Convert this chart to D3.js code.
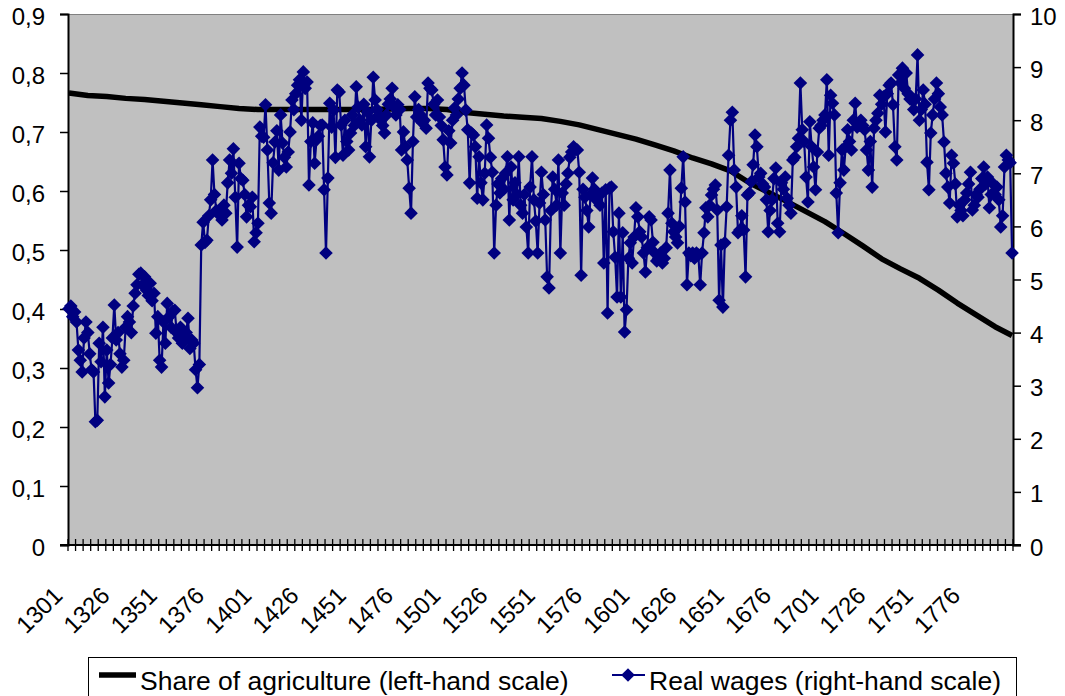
<!DOCTYPE html>
<html>
<head>
<meta charset="utf-8">
<script src="https://cdn.jsdelivr.net/npm/d3@7"></script>
<style>
  body { margin: 0; background: #fff; }
  svg { display: block; }
  text { font-family: "Liberation Sans", Arial, sans-serif; fill: #000; }
</style>
</head>
<body>
<svg id="chart" width="1065" height="696"></svg>
<script>
// Categories: one per year
const firstYear = 1301;
const lastYear = 1800;
const years = d3.range(firstYear, lastYear + 1);

// Category labels shown under the axis
const xTickLabels = ["1301", "1326", "1351", "1376", "1401", "1426", "1451", "1476",
  "1501", "1526", "1551", "1576", "1601", "1626", "1651", "1676", "1701", "1726", "1751", "1776"];

// Axis ticks
const leftTicks = [0, 0.1, 0.2, 0.3, 0.4, 0.5, 0.6, 0.7, 0.8, 0.9];
const rightTicks = [0, 1, 2, 3, 4, 5, 6, 7, 8, 9, 10];

// Share of agriculture (left-hand scale)
const agriYears = [1301, 1311, 1321, 1331, 1341, 1351, 1361, 1371, 1381, 1391,
  1401, 1411, 1421, 1431, 1441, 1451, 1461, 1471, 1481, 1491,
  1501, 1511, 1521, 1531, 1541, 1551, 1561, 1571, 1581, 1591,
  1601, 1611, 1621, 1631, 1641, 1651, 1661, 1671, 1681, 1691,
  1701, 1711, 1721, 1731, 1741, 1751, 1761, 1771, 1781, 1791, 1800];
const agriShare = [0.766, 0.762, 0.760, 0.757, 0.755, 0.752, 0.749, 0.746, 0.743, 0.740,
  0.738, 0.738, 0.738, 0.738, 0.738, 0.738, 0.738, 0.739, 0.740, 0.740,
  0.738, 0.733, 0.730, 0.727, 0.725, 0.723, 0.718, 0.712, 0.704, 0.696,
  0.688, 0.678, 0.668, 0.656, 0.646, 0.634, 0.614, 0.598, 0.582, 0.565,
  0.548, 0.528, 0.507, 0.485, 0.468, 0.452, 0.432, 0.410, 0.390, 0.370, 0.355];

// Real wages (right-hand scale), 1301-1800
const realWages = [
  4.45, 4.5, 4.3, 4.39, 4.2, 3.67, 3.48, 3.26, 3.9, 4.2,
  4.0, 3.6, 3.3, 3.26, 2.32, 2.35, 3.8, 3.45, 4.1, 2.79,
  3.67, 3.05, 3.4, 3.9, 4.52, 3.86, 4.0, 3.6, 3.35, 3.48,
  4.1, 4.3, 4.2, 4.0, 4.5, 4.74, 4.9, 5.1, 5.12, 4.9,
  5.05, 4.8, 4.7, 4.93, 4.6, 4.74, 3.99, 4.3, 3.48, 3.35,
  4.2, 3.8, 4.55, 4.3, 4.1, 4.4, 4.42, 4.0, 3.9, 4.1,
  3.8, 3.9, 4.0, 4.27, 3.7, 3.86, 3.8, 3.3, 2.96, 3.4,
  5.65, 6.08, 5.7, 5.74, 6.2, 6.5, 7.25, 6.6, 6.3, 6.27,
  6.2, 6.12, 6.4, 6.25, 6.82, 7.25, 7.0, 7.46, 6.55, 5.61,
  7.19, 6.9, 6.87, 6.6, 6.18, 6.4, 6.37, 6.55, 5.71, 5.88,
  6.06, 7.87, 7.7, 7.68, 8.29, 7.44, 6.44, 6.25, 7.2, 7.59,
  7.8, 7.06, 8.1, 7.57, 7.3, 7.12, 7.4, 7.78, 8.38, 8.2,
  8.5, 8.66, 8.76, 8.0, 8.91, 8.6, 8.72, 6.78, 7.6, 7.95,
  7.19, 7.63, 7.7, 7.9, 7.91, 6.69, 5.5, 6.91, 8.32, 7.87,
  8.19, 7.3, 8.57, 8.53, 7.91, 7.34, 8.0, 7.6, 7.44, 7.76,
  8.1, 7.9, 8.63, 8.25, 8.0, 7.91, 8.3, 7.5, 8.15, 7.31,
  8.0, 8.81, 8.38, 8.2, 8.1, 8.0, 7.9, 7.76, 8.1, 8.3,
  8.4, 8.6, 8.25, 8.1, 8.29, 8.2, 7.44, 7.78, 7.5, 7.25,
  6.72, 6.25, 7.6, 8.44, 8.06, 8.2, 8.1, 7.95, 8.0, 7.85,
  8.7, 8.6, 8.57, 8.3, 8.1, 8.38, 8.06, 7.9, 7.63, 7.12,
  6.97, 7.8, 7.57, 8.0, 8.23, 8.1, 8.4, 8.6, 8.89, 8.66,
  8.19, 7.82, 6.82, 7.76, 7.72, 7.5, 6.53, 7.31, 6.82, 6.5,
  7.0, 7.91, 7.66, 7.3, 7.02, 5.5, 6.4, 6.8, 6.63, 6.9,
  6.7, 7.0, 7.31, 6.12, 7.12, 6.5, 6.82, 6.6, 7.31, 6.4,
  6.25, 6.6, 5.99, 5.5, 6.74, 7.31, 6.5, 6.1, 5.5, 6.44,
  7.02, 6.6, 6.12, 5.05, 4.84, 6.3, 6.93, 6.7, 6.4, 7.25,
  5.5, 6.63, 6.4, 6.8, 7.0, 7.3, 7.4, 7.5, 7.45, 7.44,
  7.02, 5.08, 6.7, 6.55, 6.3, 5.99, 6.6, 6.91, 6.7, 6.5,
  6.6, 6.4, 6.63, 5.31, 6.69, 4.37, 6.72, 6.74, 5.9, 5.42,
  4.67, 6.25, 4.67, 5.88, 4.01, 4.43, 5.4, 5.69, 5.31, 5.8,
  6.35, 6.18, 5.9, 5.8, 5.5, 5.14, 5.6, 6.18, 6.12, 5.7,
  5.5, 5.35, 5.4, 5.5, 5.31, 5.4, 5.6, 6.25, 7.06, 6.06,
  5.9, 5.8, 5.69, 6.0, 6.72, 7.31, 6.46, 4.9, 5.5, 5.45,
  5.5, 5.4, 5.5, 5.46, 4.9, 5.5, 5.88, 6.35, 6.18, 6.4,
  6.59, 6.7, 6.78, 6.31, 4.61, 5.65, 4.48, 5.69, 6.37, 7.34,
  8.0, 8.15, 7.06, 6.74, 5.88, 5.93, 6.2, 5.93, 5.05, 6.59,
  6.63, 6.84, 7.16, 7.72, 7.5, 6.93, 7.0, 6.8, 6.74, 6.5,
  5.9, 6.3, 6.5, 6.9, 7.1, 6.06, 5.9, 6.82, 6.7, 6.93,
  6.53, 6.4, 6.25, 7.25, 7.3, 7.5, 7.66, 8.7, 7.82, 7.6,
  6.93, 6.46, 7.97, 7.5, 7.12, 6.69, 7.4, 7.85, 7.9, 8.0,
  8.1, 8.76, 7.34, 8.47, 8.32, 8.1, 6.63, 5.88, 6.82, 7.44,
  7.06, 7.5, 7.82, 7.6, 7.44, 8.0, 8.32, 7.87, 7.9, 8.0,
  7.9, 7.82, 7.44, 7.06, 7.6, 6.74, 7.85, 8.0, 8.13, 8.47,
  8.3, 8.44, 7.78, 8.5, 8.66, 8.7, 8.29, 7.5, 7.25, 8.85,
  8.7, 8.98, 8.6, 8.89, 8.5, 8.4, 8.38, 8.2, 8.4, 9.23,
  8.0, 8.2, 8.57, 8.3, 7.21, 6.69, 7.76, 8.1, 8.4, 8.7,
  8.5, 8.25, 8.1, 7.59, 7.0, 6.74, 6.44, 7.34, 7.19, 6.8,
  6.18, 6.4, 6.3, 6.2, 6.5, 6.63, 6.8, 7.02, 6.31, 6.4,
  6.6, 6.55, 6.7, 6.9, 7.12, 6.8, 6.93, 6.35, 6.6, 6.8,
  6.6, 6.74, 6.5, 5.99, 6.2, 7.12, 7.34, 7.25, 7.2, 5.5
];

const seriesNames = ["Share of agriculture (left-hand scale)", "Real wages (right-hand scale)"];

// Layout
const plot = { left: 68, right: 1013, top: 14, bottom: 545 };
const svg = d3.select("#chart");

const x = d3.scaleBand().domain(years).range([plot.left, plot.right]).padding(0);
const cx = yr => x(yr) + x.bandwidth() / 2;
const yL = d3.scaleLinear().domain([0, 0.9]).range([plot.bottom, plot.top]);
const yR = d3.scaleLinear().domain([0, 10]).range([plot.bottom, plot.top]);

// Plot area
svg.append("rect")
  .attr("x", plot.left).attr("y", plot.top)
  .attr("width", plot.right - plot.left).attr("height", plot.bottom - plot.top)
  .attr("fill", "#c0c0c0");
svg.append("line")
  .attr("x1", plot.left).attr("x2", plot.right)
  .attr("y1", plot.top + 0.5).attr("y2", plot.top + 0.5)
  .attr("stroke", "#808080").attr("stroke-width", 1);

// Left axis
const fmtComma = d => d === 0 ? "0" : d3.format(".1f")(d).replace(".", ",");
const gL = svg.append("g").attr("transform", `translate(${plot.left},0)`)
  .call(d3.axisLeft(yL).tickValues(leftTicks).tickFormat(fmtComma).tickSize(8).tickPadding(15));
gL.selectAll("text").style("font-size", "24px").attr("dy", "0.42em");

// Right axis
const gR = svg.append("g").attr("transform", `translate(${plot.right},0)`)
  .call(d3.axisRight(yR).tickValues(rightTicks).tickFormat(d3.format("d")).tickSize(8).tickPadding(9));
gR.selectAll("text").style("font-size", "24px").attr("dy", "0.42em");

[gL, gR].forEach(g => {
  g.selectAll(".domain").attr("stroke", "#000").attr("stroke-width", 2);
  g.selectAll(".tick line").attr("stroke", "#000").attr("stroke-width", 1.5);
});

// Category axis: line, crossing ticks every 4 categories, labels every 25
const gX = svg.append("g");
gX.append("line")
  .attr("x1", plot.left - 8).attr("x2", plot.right + 8)
  .attr("y1", plot.bottom).attr("y2", plot.bottom)
  .attr("stroke", "#000").attr("stroke-width", 2);
const tickIdx = d3.range(0, years.length + 1, 4);
gX.selectAll("line.xt").data(tickIdx).join("line")
  .attr("class", "xt")
  .attr("x1", i => plot.left + i * x.bandwidth()).attr("x2", i => plot.left + i * x.bandwidth())
  .attr("y1", plot.bottom - 6).attr("y2", plot.bottom + 6)
  .attr("stroke", "#000").attr("stroke-width", 1.3);
gX.selectAll("text").data(xTickLabels).join("text")
  .attr("text-anchor", "end")
  .attr("transform", d => `translate(${cx(+d) - 5},597) rotate(-45)`)
  .style("font-size", "24px")
  .text(d => d);

// Share of agriculture line
const agri = agriYears.map((yr, i) => ({ yr, v: agriShare[i] }));
svg.append("path")
  .datum(agri)
  .attr("fill", "none").attr("stroke", "#000").attr("stroke-width", 5.5)
  .attr("stroke-linejoin", "round")
  .attr("d", d3.line().x(d => cx(d.yr)).y(d => yL(d.v)));

// Real wages line with diamond markers
const wages = years.map((yr, i) => ({ yr, v: realWages[i] }));
const navy = "#000080";
svg.append("path")
  .datum(wages)
  .attr("fill", "none").attr("stroke", navy).attr("stroke-width", 2.2)
  .attr("d", d3.line().x(d => cx(d.yr)).y(d => yR(d.v)));
const diamond = r => `M0,${-r}L${r},0L0,${r}L${-r},0Z`;
svg.append("g").selectAll("path").data(wages).join("path")
  .attr("transform", d => `translate(${cx(d.yr)},${yR(d.v)})`)
  .attr("d", diamond(6.8))
  .attr("fill", navy);

// Legend
const lg = svg.append("g");
lg.append("rect")
  .attr("x", 88.5).attr("y", 657.5).attr("width", 928).attr("height", 60)
  .attr("fill", "#fff").attr("stroke", "#000").attr("stroke-width", 1);
lg.append("line").attr("x1", 99).attr("x2", 136).attr("y1", 675).attr("y2", 675)
  .attr("stroke", "#000").attr("stroke-width", 5.5);
lg.append("text").attr("x", 140).attr("y", 690).style("font-size", "26.5px").text(seriesNames[0]);
lg.append("line").attr("x1", 612).attr("x2", 645).attr("y1", 675).attr("y2", 675)
  .attr("stroke", navy).attr("stroke-width", 2.2);
lg.append("path").attr("transform", "translate(628,675)").attr("d", diamond(6.8)).attr("fill", navy);
lg.append("text").attr("x", 649).attr("y", 690).style("font-size", "26.5px").text(seriesNames[1]);
</script>
</body>
</html>
